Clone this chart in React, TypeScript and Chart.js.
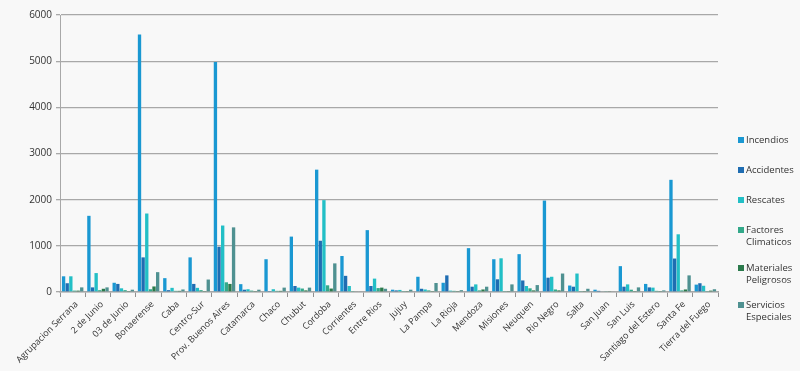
import React, { useEffect, useRef } from "react";
import { Chart, registerables } from "chart.js";

Chart.register(...registerables);

const categories = [
  "Agrupacion Serrana", "2 de Junio", "03 de Junio", "Bonaerense", "Caba", "Centro-Sur",
  "Prov. Buenos Aires", "Catamarca", "Chaco", "Chubut", "Cordoba", "Corrientes", "Entre Rios",
  "Jujuy", "La Pampa", "La Rioja", "Mendoza", "Misiones", "Neuquen", "Rio Negro", "Salta",
  "San Juan", "San Luis", "Santiago del Estero", "Santa Fe", "Tierra del Fuego",
];

const incendios = [340, 1650, 200, 5580, 300, 750, 4980, 170, 710, 1200, 2650, 780, 1340, 50, 330, 200, 950, 710, 820, 1980, 140, 50, 560, 175, 2430, 160];
const accidentes = [190, 100, 175, 750, 40, 175, 980, 50, 20, 130, 1110, 350, 130, 35, 70, 360, 115, 275, 250, 310, 115, 25, 115, 100, 725, 190];
const rescates = [340, 410, 80, 1700, 90, 90, 1440, 60, 60, 95, 1990, 130, 290, 45, 55, 30, 165, 730, 130, 330, 400, 15, 165, 95, 1250, 135];
const factores = [30, 40, 40, 60, 25, 40, 210, 30, 25, 75, 145, 20, 85, 20, 35, 25, 35, 20, 80, 55, 20, 10, 50, 25, 35, 20];
const materiales = [30, 70, 20, 120, 25, 20, 175, 20, 25, 35, 75, 15, 95, 20, 20, 20, 55, 20, 35, 35, 20, 10, 20, 20, 55, 30];
const servicios = [100, 100, 50, 430, 55, 270, 1400, 50, 95, 95, 620, 15, 70, 50, 195, 40, 115, 165, 150, 400, 70, 15, 100, 35, 360, 60];

const seriesNames = ["Incendios", "Accidentes", "Rescates", "Factores Climaticos", "Materiales Peligrosos", "Servicios Especiales"];
const legendLines = [["Incendios"], ["Accidentes"], ["Rescates"], ["Factores", "Climaticos"], ["Materiales", "Peligrosos"], ["Servicios", "Especiales"]];
const colors = ["#1a98d2", "#1f6db2", "#22bfc6", "#33a98a", "#2b7a4c", "#4f9191"];
const yTicks = [0, 1000, 2000, 3000, 4000, 5000, 6000];

export default function App() {
  const ref = useRef<HTMLCanvasElement>(null);
  useEffect(() => {
    document.body.style.margin = "0";
    const values = [incendios, accidentes, rescates, factores, materiales, servicios];
    const chart = new Chart(ref.current!, {
      type: "bar",
      data: {
        labels: categories,
        datasets: seriesNames.map((n, i) => ({
          label: n,
          data: values[i],
          backgroundColor: colors[i],
          borderWidth: 0,
          categoryPercentage: 0.86,
          barPercentage: 0.92,
        })),
      },
      options: {
        animation: false,
        responsive: false,
        layout: { padding: { top: 15, right: 82, left: 0, bottom: 0 } },
        plugins: { legend: { display: false }, tooltip: { enabled: false } },
        scales: {
          x: {
            offset: true,
            grid: { drawOnChartArea: false, drawTicks: true, tickLength: 5, color: "#909090", offset: true, lineWidth: 1 },
            border: { color: "#a8a8a8", width: 1.5 },
            ticks: {
              minRotation: 45,
              maxRotation: 45,
              autoSkip: false,
              color: "#333",
              font: { family: "Open Sans", size: 9 },
              padding: 2,
              labelOffset: 4,
            },
            afterFit: (s: any) => { s.height = 79; },
          },
          y: {
            min: 0,
            max: 6000,
            afterBuildTicks: (s: any) => { s.ticks = yTicks.map((v) => ({ value: v })); },
            grid: { color: "#a8a8a8", lineWidth: 1.3, tickLength: 4 },
            border: { color: "#a8a8a8", width: 1 },
            ticks: {
              color: "#333",
              font: { family: "Open Sans", size: 10 },
              padding: 4,
              callback: (v: any) => String(v),
            },
            afterFit: (s: any) => { s.width = 60; },
          },
        },
      },
    });
    return () => chart.destroy();
  }, []);

  const tops = [140, 170, 200, 230, 268, 305];
  return (
    <div style={{ position: "relative", width: 800, height: 371, background: "#f8f8f8", overflow: "hidden" }}>
      <canvas ref={ref} width={800} height={371} style={{ display: "block" }} />
      {legendLines.map((lines, i) => (
        <div
          key={i}
          style={{
            position: "absolute",
            left: 738,
            top: tops[i] - 6,
            fontFamily: "Open Sans",
            fontSize: 9.5,
            lineHeight: "12px",
            color: "#333",
            display: "flex",
            alignItems: "flex-start",
          }}
        >
          <span style={{ width: 6, height: 6, background: colors[i], marginTop: 3, marginRight: 2, flex: "none" }} />
          <span>{lines.map((l, j) => <div key={j}>{l}</div>)}</span>
        </div>
      ))}
    </div>
  );
}
